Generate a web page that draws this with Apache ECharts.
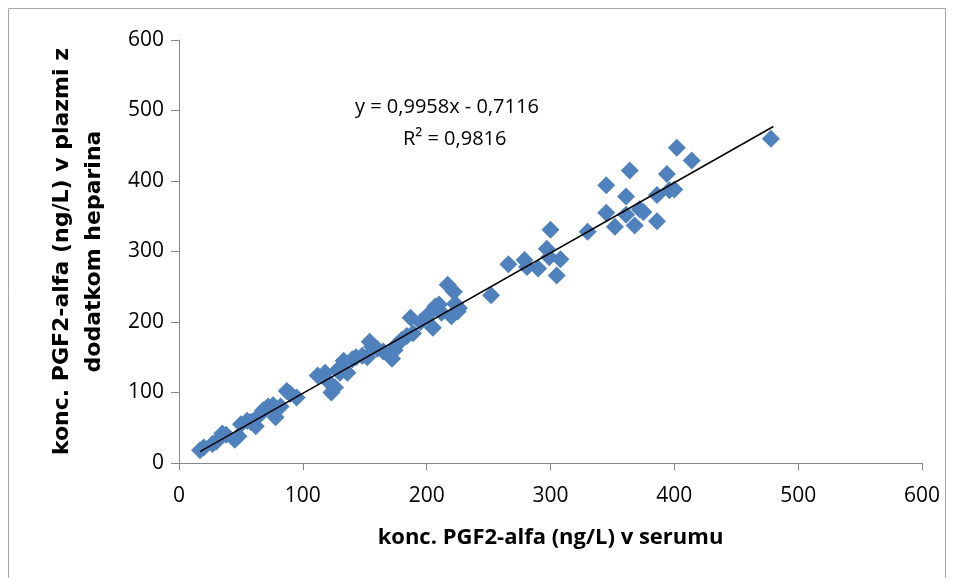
<!DOCTYPE html>
<html>
<head>
<meta charset="utf-8">
<script src="https://cdn.jsdelivr.net/npm/echarts@6/dist/echarts.min.js"></script>
<style>html,body{margin:0;padding:0;background:#fff}#c{width:954px;height:578px}</style>
</head>
<body>
<div id="c"></div>
<script>
// serum concentration (x) and heparin plasma concentration (y), ng/L
const serumX = [17,20,27,30,35,38,45,48,50,55,58,62,65,68,72,76,78,82,87,90,95,
  112,118,121,123,126,128,130,133,136,140,143,148,152,154,156,160,165,170,172,174,176,180,184,187,189,195,
  201,205,207,210,212,217,220,222,223,225,226,
  252,266,279,281,290,297,299,300,305,308,
  330,345,345,352,361,361,364,368,372,375,386,386,394,396,400,402,414,478];
const plasmaY = [18,22,27,30,42,40,33,38,55,60,58,52,68,75,80,82,65,80,102,98,93,
  124,128,115,100,107,132,128,145,128,147,150,152,150,172,165,162,158,155,148,160,168,175,180,206,184,200,
  210,192,222,225,213,253,208,243,226,215,220,
  238,282,288,278,276,304,292,331,266,289,
  328,394,355,335,378,352,415,337,360,356,343,380,410,387,388,447,429,460];
const xTicks = [0,100,200,300,400,500,600];
const yTicks = [0,100,200,300,400,500,600];
// trend line as printed on the chart
const slope = 0.9958, intercept = -0.7116;
const trendXs = [17, 480];
const eqText = 'y = 0,9958x - 0,7116';
const r2Text = 'R² = 0,9816';

const points = serumX.map((x, i) => [x, plasmaY[i]]);
const trend = trendXs.map(x => [x, slope * x + intercept]);

const chart = echarts.init(document.getElementById('c'));
const axisCol = '#868686';
chart.setOption({
  animation: false,
  backgroundColor: '#fff',
  grid: { left: 179, top: 40, width: 743, height: 423, containLabel: false },
  xAxis: {
    type: 'value', min: xTicks[0], max: xTicks[xTicks.length - 1], interval: 100,
    splitLine: { show: false },
    axisLine: { show: true, lineStyle: { color: axisCol, width: 1 } },
    axisTick: { show: true, length: 7, lineStyle: { color: axisCol } },
    axisLabel: { color: '#000', fontFamily: 'Open Sans', fontSize: 21, margin: 23 },
    name: 'konc. PGF2-alfa (ng/L) v serumu', nameLocation: 'middle', nameGap: 64,
    nameTextStyle: { color: '#000', fontFamily: 'Open Sans', fontWeight: 'bold', fontSize: 22 }
  },
  yAxis: {
    type: 'value', min: yTicks[0], max: yTicks[yTicks.length - 1], interval: 100,
    splitLine: { show: false },
    axisLine: { show: true, lineStyle: { color: axisCol, width: 1 } },
    axisTick: { show: true, length: 8, lineStyle: { color: axisCol } },
    axisLabel: { color: '#000', fontFamily: 'Open Sans', fontSize: 21, margin: 15 },
    name: 'konc. PGF2-alfa (ng/L) v plazmi z\ndodatkom heparina', nameLocation: 'middle', nameGap: 69,
    nameTextStyle: { color: '#000', fontFamily: 'DejaVu Sans', fontWeight: 'bold', fontSize: 22, lineHeight: 32 }
  },
  series: [
    {
      type: 'scatter', data: points, symbol: 'diamond', symbolSize: 18,
      itemStyle: { color: '#4F81BD', opacity: 1 }, z: 2
    },
    {
      type: 'line', data: trend, symbol: 'none', lineStyle: { color: '#000', width: 1.5 }, z: 3
    }
  ],
  graphic: [
    { type: 'rect', shape: { x: 8.5, y: 8.5, width: 937, height: 580 }, style: { fill: 'none', stroke: '#a6a6a6', lineWidth: 1 }, silent: true },
    { type: 'text', left: 355, top: 97, style: { text: eqText, fill: '#000', font: '20px "Open Sans"' } },
    { type: 'text', left: 403, top: 129, style: { text: r2Text, fill: '#000', font: '20px "Open Sans"' } }
  ]
});
</script>
</body>
</html>
